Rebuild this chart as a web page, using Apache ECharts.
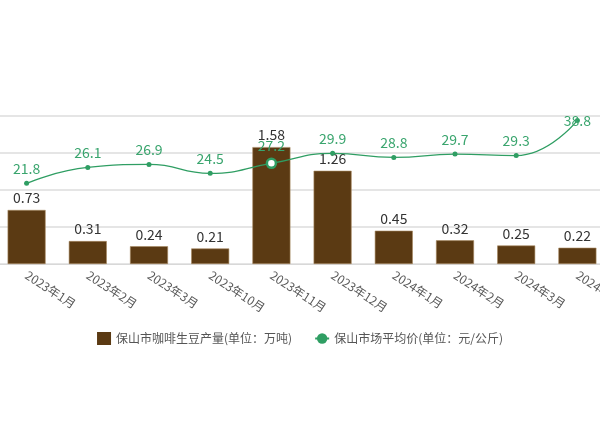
<!DOCTYPE html>
<html>
<head>
<meta charset="utf-8">
<script src="https://cdn.jsdelivr.net/npm/echarts@6/dist/echarts.min.js"></script>
<style>html,body{margin:0;padding:0;background:#fff}#c{width:600px;height:427px}</style>
</head>
<body>
<div id="c"></div>
<script>
var categories = ['2023年1月','2023年2月','2023年3月','2023年10月','2023年11月','2023年12月','2024年1月','2024年2月','2024年3月','2024年4月'];
var output = [0.73, 0.31, 0.24, 0.21, 1.58, 1.26, 0.45, 0.32, 0.25, 0.22];
var price = [21.8, 26.1, 26.9, 24.5, 27.2, 29.9, 28.8, 29.7, 29.3, 38.8];
var seriesNames = ['保山市咖啡生豆产量(单位：万吨)', '保山市场平均价(单位：元/公斤)'];

var FONT = "'Microsoft YaHei','Noto Sans CJK SC',sans-serif";
var GREEN = '#2f9e63';
var priceData = price.map(function (v, i) {
  if (i === 4) {
    return { value: v, symbolSize: 9, itemStyle: { color: '#fff', borderColor: GREEN, borderWidth: 2.5 } };
  }
  if (i === price.length - 1) {
    return { value: v, label: { position: 'inside' } };
  }
  return v;
});

var chart = echarts.init(document.getElementById('c'), null, { renderer: 'canvas' });
chart.setOption({
  animation: false,
  textStyle: { fontFamily: FONT },
  grid: { left: -4, right: -8, top: 116, bottom: 163, containLabel: false, outerBoundsMode: 'none' },
  legend: {
    top: 327, left: 'center',
    itemWidth: 14, itemHeight: 13, itemGap: 22,
    itemStyle: { borderWidth: 0 },
    textStyle: { fontSize: 12, color: '#555', fontFamily: FONT },
    data: [{ name: seriesNames[0], icon: 'rect' }, { name: seriesNames[1] }]
  },
  xAxis: {
    type: 'category',
    data: categories,
    axisLine: { lineStyle: { color: '#d8d8d8' } },
    axisTick: { length: 5, lineStyle: { color: '#d8d8d8' } },
    axisLabel: { rotate: -33, margin: 10, fontSize: 12, color: '#555', interval: 0, fontFamily: FONT, hideOverlap: false }
  },
  yAxis: [
    { type: 'value', min: 0, max: 2, interval: 0.5, show: true,
      axisLabel: { show: false }, axisLine: { show: false }, axisTick: { show: false },
      splitLine: { lineStyle: { color: '#dcdcdc', width: 1.5 } } },
    { type: 'value', min: 0, max: 40, interval: 10, show: true,
      axisLabel: { show: false }, axisLine: { show: false }, axisTick: { show: false },
      splitLine: { show: false } }
  ],
  series: [
    {
      name: seriesNames[0], type: 'bar', yAxisIndex: 0, data: output,
      barWidth: 38,
      itemStyle: { color: '#5b3a13', borderColor: '#a88a62', borderWidth: 0.6 },
      label: { show: true, position: 'top', distance: 5, fontSize: 14, color: '#333', fontFamily: FONT }
    },
    {
      name: seriesNames[1], type: 'line', yAxisIndex: 1, data: priceData,
      smooth: true,
      symbol: 'circle', symbolSize: 5,
      lineStyle: { color: GREEN, width: 1.3 },
      itemStyle: { color: GREEN },
      label: { show: true, position: 'top', distance: 5, fontSize: 14, color: '#3aa56e', fontFamily: FONT }
    }
  ]
});
</script>
</body>
</html>
